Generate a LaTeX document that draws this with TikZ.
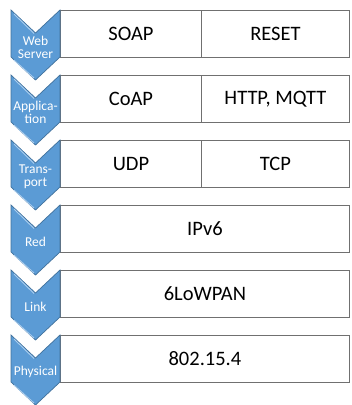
\documentclass[tikz,border=0pt]{standalone}
\usepackage{fontspec}
\setmainfont{Carlito}
\usepackage{tikz}

\definecolor{chevblue}{RGB}{91,155,213}
\definecolor{chevline}{RGB}{65,113,156}
\definecolor{chevlight}{RGB}{170,205,238}
\definecolor{cellline}{RGB}{112,112,112}

\begin{document}
\begin{tikzpicture}[x=1pt, y=-1pt]
      \tikzset{cell/.style={draw=cellline, line width=0.9pt, fill=white,
          minimum height=47pt, inner sep=0pt, anchor=north west,
          font=\fontsize{20.5}{22}\selectfont}}
      \tikzset{layer/.pic={
          \draw[fill=chevblue, draw=chevline, line width=0.7pt]
            (0,0) -- (24.5,23) -- (49,0) -- (49,47) -- (24.5,70) -- (0,47) -- cycle;
          \draw[chevlight, line width=0.9pt] (3,4) -- (23,23.5);
          \draw[chevlight, line width=0.9pt] (3,50) -- (23,68);
          \node[text=white, align=center, inner sep=0pt,
            font=\fontsize{13.5}{13}\selectfont] (lbl) at (24.5,37) {\tikzpictext};
        }}

      \useasboundingbox (0,0) rectangle (352,405);

      % protocol cells
      \node[cell, minimum width=141pt] (soap) at (60,10) {SOAP};
      \node[cell, minimum width=148pt] (reset) at (201,10) {RESET};
      \node[cell, minimum width=141pt] (coap) at (60,75) {CoAP};
      \node[cell, minimum width=148pt] (http) at (201,75) {HTTP, MQTT};
      \node[cell, minimum width=141pt] (udp) at (60,140) {UDP};
      \node[cell, minimum width=148pt] (tcp) at (201,140) {TCP};
      \node[cell, minimum width=289pt] (ipv) at (60,205) {IPv6};
      \node[cell, minimum width=289pt] (lowpan) at (60,270) {6LoWPAN};
      \node[cell, minimum width=289pt] (ieee) at (60,335) {802.15.4};

      % layer chevrons
      \pic[pic text={Web\\Server}] (web) at (11,10) {layer};
      \pic[pic text={Applica-\\tion}] (app) at (11,75) {layer};
      \pic[pic text={Trans-\\port}] (trans) at (11,140) {layer};
      \pic[pic text={Red}] (red) at (11,205) {layer};
      \pic[pic text={Link}] (link) at (11,270) {layer};
      \pic[pic text={Physical}] (phys) at (11,335) {layer};
    \end{tikzpicture}
\end{document}
